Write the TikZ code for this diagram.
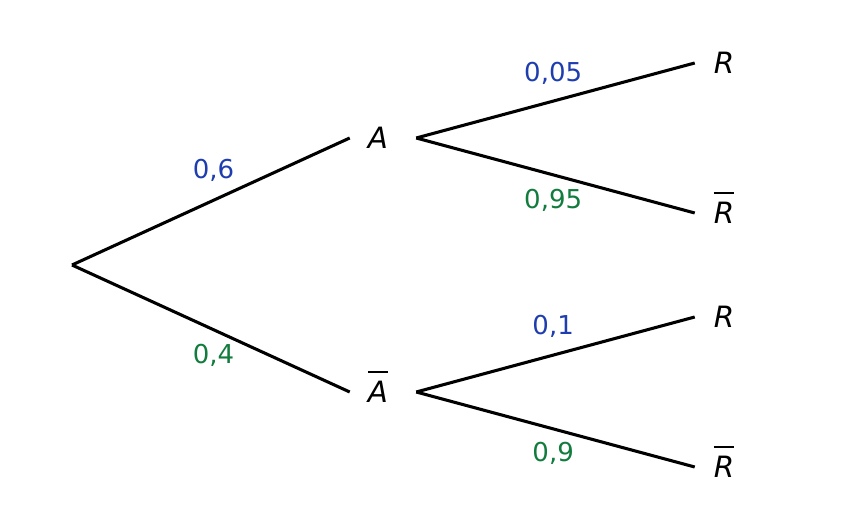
\documentclass[tikz,border=0pt]{standalone}
\usepackage{fontspec}
\setmainfont{DejaVu Sans}
\definecolor{probblue}{RGB}{30,62,176}
\definecolor{probgreen}{RGB}{18,124,62}
\newcommand{\ovl}[1]{\vbox{\hrule height 1.5pt\kern 6.5pt\hbox{#1}}}
\begin{document}
\begin{tikzpicture}[x=0.75pt,y=-0.75pt]
  \tikzstyle{event}=[inner sep=0pt,minimum width=42pt,text height=16pt,text depth=0pt,font=\fontsize{22}{24}\selectfont\itshape]
  \tikzstyle{branch}=[draw,line width=2.3pt]
  \tikzstyle{prob}=[midway,inner sep=0pt,font=\fontsize{19.5}{20}\selectfont]
  \useasboundingbox (0,0) rectangle (858,530);

  \coordinate (root) at (72,265);
  \node [event] (A) at (378,138) {A};
  \node [event] (Ab) at (378,392) {\ovl{A}};
  \node [event,minimum width=43.5pt] (R1) at (724,63) {R};
  \node [event,minimum width=43.5pt] (R1b) at (724,213) {\ovl{R}};
  \node [event,minimum width=43.5pt] (R2) at (724,317) {R};
  \node [event,minimum width=43.5pt] (R2b) at (724,467) {\ovl{R}};

  \path[branch] (root) to node[prob,probblue,yshift=23pt,xshift=2pt] {0,6} (A.west);
  \path[branch] (root) to node[prob,probgreen,yshift=-20.5pt,xshift=2pt] {0,4} (Ab.west);

  \path[branch] ([xshift=7.5pt]A.east) to node[prob,probblue,yshift=20pt,xshift=-1.75pt] {0,05} (R1.west);
  \path[branch] ([xshift=7.5pt]A.east) to node[prob,probgreen,yshift=-19pt,xshift=-1.75pt] {0,95} (R1b.west);
  \path[branch] ([xshift=7.5pt]Ab.east) to node[prob,probblue,yshift=21pt,xshift=-1.75pt] {0,1} (R2.west);
  \path[branch] ([xshift=7.5pt]Ab.east) to node[prob,probgreen,yshift=-18pt,xshift=-1.75pt] {0,9} (R2b.west);
\end{tikzpicture}
\end{document}
